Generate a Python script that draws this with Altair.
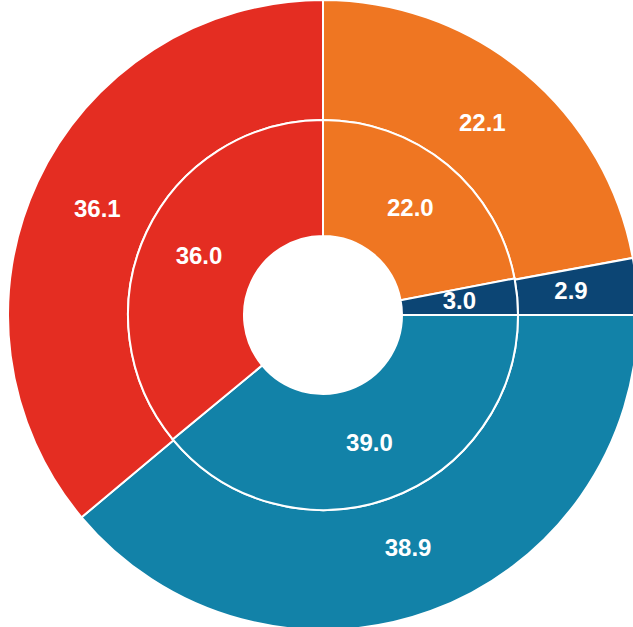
import altair as alt
import pandas as pd

categories = ["Seg A", "Seg B", "Seg C", "Seg D"]
outer_values = [22.1, 2.9, 38.9, 36.1]
inner_values = [22.0, 3.0, 39.0, 36.0]
colors = ["#ef7622", "#0c4574", "#1282a8", "#e42d22"]

df_outer = pd.DataFrame({"cat": categories, "value": outer_values, "ord": list(range(len(categories)))})
df_inner = pd.DataFrame({"cat": categories, "value": inner_values, "ord": list(range(len(categories)))})

CX, CY = 323, 315
R_OUT, R_MID, R_IN = 315, 195, 79

color = alt.Color("cat:N", scale=alt.Scale(domain=categories, range=colors), legend=None)


def ring(df, r1, r2, rl):
    base = alt.Chart(df).encode(
        theta=alt.Theta("value:Q", stack=True, scale=alt.Scale(domain=[0, 100])),
        order=alt.Order("ord:Q"),
        x=alt.value(CX),
        y=alt.value(CY),
    )
    arc = base.mark_arc(radius=r1, radius2=r2, stroke="white", strokeWidth=2).encode(color=color)
    txt = base.mark_text(
        radius=rl, fontSize=24, fontWeight="bold", color="white", font="Liberation Sans"
    ).encode(text=alt.Text("value:Q", format=".1f"))
    return arc, txt


oa, ot = ring(df_outer, R_OUT, R_MID, 249)
ia, it = ring(df_inner, R_MID, R_IN, 137)

chart = alt.layer(oa, ia, ot, it).properties(
    width=633, height=627, autosize="none", padding=0, background="white"
).configure_view(strokeWidth=0)

chart.save("out.html", embed_options={"renderer": "svg", "actions": False})
